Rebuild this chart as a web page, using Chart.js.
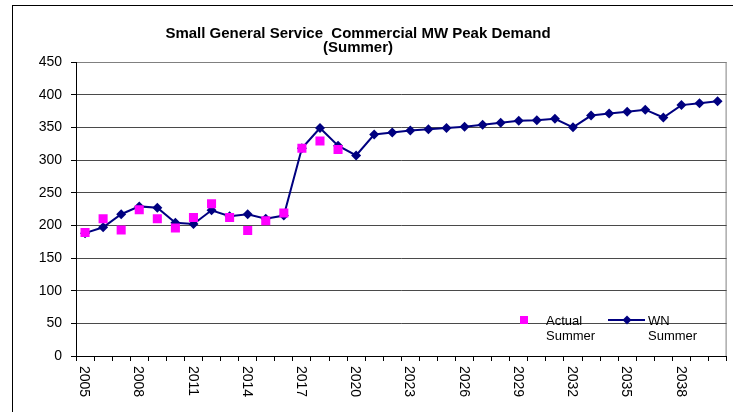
<!DOCTYPE html>
<html>
<head>
<meta charset="utf-8">
<script src="https://cdn.jsdelivr.net/npm/chart.js@4.4.1/dist/chart.umd.min.js"></script>
<style>
  body { margin: 0; background: #fff; }
</style>
</head>
<body>
<canvas id="chart" width="733" height="412"></canvas>
<script>
const years = [2005, 2006, 2007, 2008, 2009, 2010, 2011, 2012, 2013, 2014, 2015, 2016,
  2017, 2018, 2019, 2020, 2021, 2022, 2023, 2024, 2025, 2026, 2027, 2028,
  2029, 2030, 2031, 2032, 2033, 2034, 2035, 2036, 2037, 2038, 2039, 2040];
const shownYears = [2005, 2008, 2011, 2014, 2017, 2020, 2023, 2026, 2029, 2032, 2035, 2038];

// actual summer peaks, 2005-2019
const actualSummer = [189, 210, 193, 224, 210, 196, 212, 233, 212, 192, 207, 219, 318, 329, 316];
// weather normalised summer peaks, 2005-2040
const wnSummer = [188, 197, 217, 229, 227, 204, 202, 223, 214, 217, 210, 215,
  318, 349, 322, 307, 339, 342, 345, 347, 349, 351, 354, 357,
  360, 361, 363, 350, 368, 371, 374, 377, 365, 384, 387, 390];

const titleLines = ['Small General Service  Commercial MW Peak Demand', '(Summer)'];
const FONT = '"Liberation Sans", Arial, sans-serif';

const extras = {
  id: 'extras',
  beforeDraw(chart) {
    const ctx = chart.ctx, a = chart.chartArea;
    ctx.save();
    ctx.fillStyle = '#fff';
    ctx.fillRect(0, 0, chart.width, chart.height);
    ctx.strokeStyle = '#000';
    ctx.lineWidth = 1;
    ctx.strokeRect(12.5, 5.5, chart.width, chart.height);
    ctx.strokeStyle = '#808080';
    ctx.strokeRect(a.left + 0.5, a.top + 0.5, a.right - a.left - 1, a.bottom - a.top);
    ctx.restore();
  },
  afterDraw(chart) {
    const ctx = chart.ctx;
    const xs = chart.scales.x;
    ctx.save();
    ctx.fillStyle = '#000';

    // title
    ctx.font = 'bold 15px ' + FONT;
    ctx.textAlign = 'center';
    ctx.textBaseline = 'alphabetic';
    titleLines.forEach((t, k) => ctx.fillText(t, 358, 38 + k * 14));

    // x labels, read top to bottom
    ctx.font = '14px ' + FONT;
    shownYears.forEach(y => {
      const px = xs.getPixelForValue(years.indexOf(y));
      ctx.save();
      ctx.translate(px - 1, xs.top + 10);
      ctx.rotate(Math.PI / 2);
      ctx.textAlign = 'left';
      ctx.textBaseline = 'middle';
      ctx.fillText(String(y), 0, 0);
      ctx.restore();
    });

    // legend
    const [act, wn] = chart.data.datasets;
    ctx.font = '13px ' + FONT;
    ctx.textAlign = 'left';
    ctx.fillStyle = act.backgroundColor;
    ctx.fillRect(520, 316, 8, 8);
    ctx.fillStyle = '#000';
    act.label.split(' ').forEach((w, k) => ctx.fillText(w, 546, 325 + k * 15));

    ctx.strokeStyle = wn.borderColor;
    ctx.lineWidth = 2;
    ctx.beginPath();
    ctx.moveTo(608, 320);
    ctx.lineTo(645, 320);
    ctx.stroke();
    ctx.fillStyle = wn.backgroundColor;
    ctx.beginPath();
    ctx.moveTo(627, 315.5);
    ctx.lineTo(631.5, 320);
    ctx.lineTo(627, 324.5);
    ctx.lineTo(622.5, 320);
    ctx.closePath();
    ctx.fill();
    ctx.fillStyle = '#000';
    wn.label.split(' ').forEach((w, k) => ctx.fillText(w, 648, 325 + k * 15));
    ctx.restore();
  }
};

new Chart(document.getElementById('chart'), {
  type: 'line',
  data: {
    labels: years,
    datasets: [{
      label: 'Actual Summer',
      data: actualSummer,
      showLine: false,
      pointStyle: 'rect',
      pointRadius: 6.4,
      backgroundColor: '#FF00FF',
      borderColor: '#FF00FF',
      borderWidth: 0
    }, {
      label: 'WN Summer',
      data: wnSummer,
      borderColor: '#000080',
      backgroundColor: '#000080',
      borderWidth: 2,
      pointStyle: 'rectRot',
      pointRadius: 5,
      pointBorderWidth: 0,
      tension: 0
    }]
  },
  options: {
    responsive: false,
    animation: false,
    events: [],
    layout: { padding: { top: 62, right: 5, left: 0, bottom: 0 } },
    plugins: {
      legend: { display: false },
      title: { display: false },
      tooltip: { enabled: false }
    },
    scales: {
      x: {
        type: 'category',
        offset: true,
        grid: { offset: true, drawOnChartArea: false, tickLength: 5, tickColor: '#000' },
        border: { color: '#000', width: 1 },
        ticks: { display: false },
        afterFit(s) { s.height = 56; }
      },
      y: {
        min: 0,
        max: 450,
        grid: {
          color: c => c.tick.value === 450 ? '#808080' : '#4a4a4a',
          tickLength: 5,
          tickColor: '#000'
        },
        border: { color: '#000', width: 1 },
        ticks: { stepSize: 50, padding: 9, color: '#000', font: { family: FONT, size: 14 } },
        afterFit(s) { s.width = 76; }
      }
    }
  },
  plugins: [extras]
});
</script>
</body>
</html>
